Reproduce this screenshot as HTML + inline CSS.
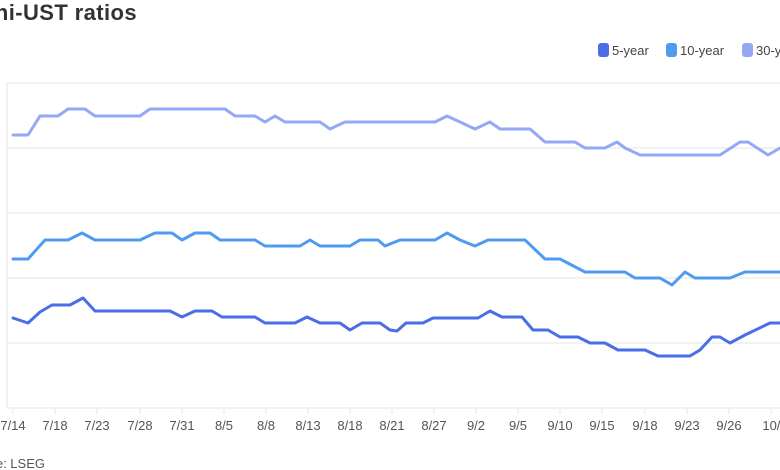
<!DOCTYPE html>
<html><head><meta charset="utf-8"><style>
html,body{margin:0;padding:0;background:#fff;overflow:hidden}
svg{display:block;font-family:"Liberation Sans",sans-serif}
</style></head><body>
<svg width="780" height="470" viewBox="0 0 780 470" xmlns="http://www.w3.org/2000/svg">
<text x="137" y="20" text-anchor="end" font-size="22" font-weight="bold" fill="#333" letter-spacing="0.4">Muni-UST ratios</text>
<g font-size="13" fill="#444">
<rect x="598" y="43" width="11" height="14" rx="3" fill="#4a6ee8"/><text x="612" y="55">5-year</text>
<rect x="666" y="43" width="11" height="14" rx="3" fill="#4f9bf0"/><text x="680" y="55">10-year</text>
<rect x="742" y="43" width="11" height="14" rx="3" fill="#93a9f5"/><text x="756" y="55">30-year</text>
</g>
<g stroke="#e6e6e6" stroke-width="1">
<line x1="7" y1="83" x2="780" y2="83"/><line x1="7" y1="148" x2="780" y2="148"/>
<line x1="7" y1="213" x2="780" y2="213"/><line x1="7" y1="278" x2="780" y2="278"/>
<line x1="7" y1="343" x2="780" y2="343"/><line x1="7" y1="408" x2="780" y2="408"/>
<line x1="7" y1="83" x2="7" y2="408"/>
</g>
<g fill="none" stroke-width="3" stroke-linejoin="round" stroke-linecap="round">
<polyline stroke="#93a9f5" points="13,135 28,135 40,116 58,116 68,109 85,109 95,116 140,116 150,109 225,109 235,116 255,116 265,122 275,116 285,122 320,122 330,129 345,122 435,122 447,116 460,122 475,129 490,122 500,129 530,129 545,142 575,142 585,148 605,148 617,142 625,148 640,155 720,155 740,142 748,142 768,155 780,148"/>
<polyline stroke="#4f9bf0" points="13,259 28,259 45,240 68,240 82,233 95,240 140,240 155,233 172,233 182,240 195,233 210,233 220,240 255,240 265,246 300,246 310,240 320,246 350,246 360,240 378,240 385,246 400,240 435,240 447,233 460,240 475,246 488,240 525,240 545,259 560,259 585,272 625,272 635,278 660,278 672,285 685,272 695,278 730,278 745,272 780,272"/>
<polyline stroke="#4a6ee8" points="13,318 28,323 40,312 52,305 70,305 83,298 95,311 170,311 182,317 195,311 212,311 222,317 255,317 265,323 295,323 307,317 320,323 340,323 350,330 362,323 380,323 390,330 397,331 406,323 423,323 433,318 478,318 490,311 502,317 522,317 533,330 548,330 560,337 578,337 590,343 605,343 618,350 645,350 658,356 690,356 700,350 712,337 720,337 730,343 745,335 770,323 780,323"/>
</g>
<g font-size="13" fill="#555" text-anchor="middle">
<text x="13" y="430">7/14</text><text x="55" y="430">7/18</text><text x="97" y="430">7/23</text>
<text x="140" y="430">7/28</text><text x="182" y="430">7/31</text><text x="224" y="430">8/5</text>
<text x="266" y="430">8/8</text><text x="308" y="430">8/13</text><text x="350" y="430">8/18</text>
<text x="392" y="430">8/21</text><text x="434" y="430">8/27</text><text x="476" y="430">9/2</text>
<text x="518" y="430">9/5</text><text x="560" y="430">9/10</text><text x="602" y="430">9/15</text>
<text x="645" y="430">9/18</text><text x="687" y="430">9/23</text><text x="729" y="430">9/26</text>
<text x="775" y="430">10/1</text>
</g>
<text x="45" y="468" text-anchor="end" font-size="13" fill="#555">Source: LSEG</text>
<g stroke="#e6e6e6">
<line x1="13" y1="408" x2="13" y2="414"/><line x1="55" y1="408" x2="55" y2="414"/><line x1="97" y1="408" x2="97" y2="414"/><line x1="140" y1="408" x2="140" y2="414"/><line x1="182" y1="408" x2="182" y2="414"/><line x1="224" y1="408" x2="224" y2="414"/><line x1="266" y1="408" x2="266" y2="414"/><line x1="308" y1="408" x2="308" y2="414"/><line x1="350" y1="408" x2="350" y2="414"/><line x1="392" y1="408" x2="392" y2="414"/><line x1="434" y1="408" x2="434" y2="414"/><line x1="476" y1="408" x2="476" y2="414"/><line x1="518" y1="408" x2="518" y2="414"/><line x1="560" y1="408" x2="560" y2="414"/><line x1="602" y1="408" x2="602" y2="414"/><line x1="645" y1="408" x2="645" y2="414"/><line x1="687" y1="408" x2="687" y2="414"/><line x1="729" y1="408" x2="729" y2="414"/><line x1="771" y1="408" x2="771" y2="414"/>
</g>
</svg>
</body></html>
